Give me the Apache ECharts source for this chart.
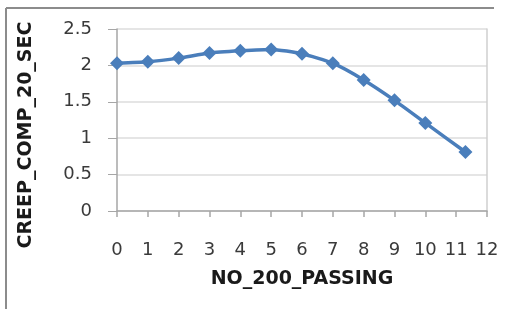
<!DOCTYPE html>
<html>
<head>
<meta charset="utf-8">
<script src="https://cdn.jsdelivr.net/npm/echarts@6/dist/echarts.min.js"></script>
<style>
  html, body { margin: 0; padding: 0; background: #fff; }
  #chart { width: 511px; height: 309px; }
</style>
</head>
<body>
<div id="chart"></div>
<script>
// values
var passing = [0, 1, 2, 3, 4, 5, 6, 7, 8, 9, 10, 11.3];
var creep = [2.03, 2.05, 2.10, 2.17, 2.20, 2.22, 2.16, 2.03, 1.80, 1.52, 1.21, 0.81];
var yTicks = ['0', '0.5', '1', '1.5', '2', '2.5'];

var points = passing.map(function (x, i) {
  return [x, creep[i]];
});

var chart = echarts.init(document.getElementById('chart'), null, { renderer: 'canvas' });

var labelFont = {
  fontFamily: 'DejaVu Sans',
  fontSize: 18,
  color: '#3a3a3a'
};
var titleFont = {
  fontFamily: 'DejaVu Sans',
  fontSize: 19,
  fontWeight: 'bold',
  color: '#1a1a1a'
};

var option = {
  animation: false,
  grid: {
    left: 117,
    right: 24,
    top: 29,
    bottom: 98
  },
  graphic: [
    {
      type: 'line',
      shape: { x1: 6, y1: 8, x2: 6, y2: 309 },
      style: { stroke: '#8c8c8c', lineWidth: 2 }
    },
    {
      type: 'line',
      shape: { x1: 6, y1: 8, x2: 494, y2: 8 },
      style: { stroke: '#8c8c8c', lineWidth: 2 }
    }
  ],
  xAxis: {
    type: 'value',
    min: 0,
    max: 12,
    interval: 1,
    name: 'NO_200_PASSING',
    nameLocation: 'middle',
    nameGap: 59,
    nameTextStyle: titleFont,
    axisLine: { lineStyle: { color: '#a6a6a6', width: 1.5 } },
    axisTick: { show: true, length: 6, lineStyle: { color: '#a6a6a6', width: 1.5 } },
    axisLabel: Object.assign({ margin: 30 }, labelFont),
    splitLine: { show: false }
  },
  yAxis: [
    {
      type: 'value',
      min: 0,
      max: 2.5,
      interval: 0.5,
      name: 'CREEP_COMP_20_SEC',
      nameLocation: 'middle',
      nameGap: 81,
      nameRotate: 90,
      nameTextStyle: Object.assign({ padding: [0, 30, 0, 0] }, titleFont),
      axisLine: { show: true, lineStyle: { color: '#a6a6a6', width: 1.5 } },
      axisTick: { show: true, length: 9, lineStyle: { color: '#a6a6a6' } },
      axisLabel: Object.assign({
        margin: 25,
        formatter: function (v) {
          var s = String(v);
          return yTicks.indexOf(s) >= 0 ? s : '';
        }
      }, labelFont),
      splitLine: { lineStyle: { color: '#dcdcdc', width: 1.5 } }
    },
    {
      type: 'value',
      position: 'right',
      min: 0,
      max: 2.5,
      interval: 0.5,
      axisLine: { show: true, lineStyle: { color: '#cfcfcf', width: 1.5 } },
      axisTick: { show: false },
      axisLabel: { show: false },
      splitLine: { show: false }
    }
  ],
  series: [{
    type: 'line',
    data: points,
    smooth: 0.2,
    symbol: 'diamond',
    symbolSize: 14,
    lineStyle: { color: '#4a7ebb', width: 3.5 },
    itemStyle: { color: '#4a7ebb' }
  }]
};

chart.setOption(option);
</script>
</body>
</html>
